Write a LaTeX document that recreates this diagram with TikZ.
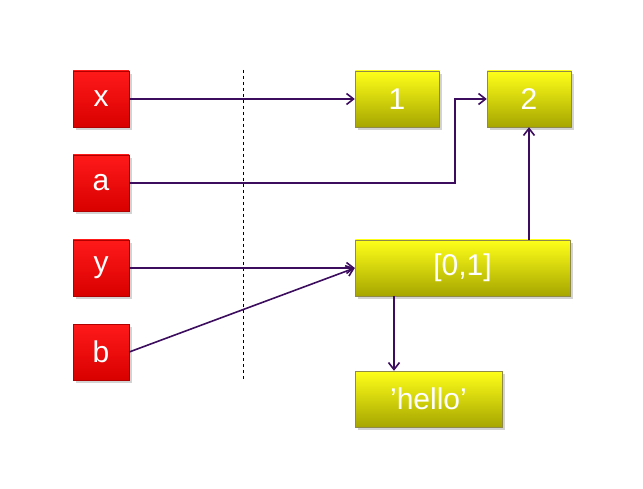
\documentclass[tikz,border=0pt]{standalone}
\usepackage{fontspec}
\setmainfont{Liberation Sans}
\usetikzlibrary{arrows.meta,shadows}
\definecolor{arr}{HTML}{3C0C5E}
\tikzset{
  var/.style={draw=red!70!black, top color=red!90!white, bottom color=red!85!black,
    minimum width=56pt, minimum height=56pt, text=white, font=\fontsize{30}{30}\selectfont,
    drop shadow={opacity=0.35}},
  obj/.style={draw=yellow!50!black, top color=yellow!90!white, bottom color=yellow!65!black,
    minimum height=56pt, text=white, font=\fontsize{30}{30}\selectfont,
    drop shadow={opacity=0.35}},
  ref/.style={draw=arr, line width=1.6pt, -{Straight Barb[length=7pt,width=11pt]}}
}
\begin{document}
\begin{tikzpicture}[x=1pt,y=-1pt]
\useasboundingbox (0,0) rectangle (643,489);
\node[var] (x) at (101,99) {x};
\node[var] (a) at (101,183) {a};
\node[var] (y) at (101,268) {y};
\node[var] (b) at (101,352) {b};
\node[obj, minimum width=84pt] (one) at (397,99) {1};
\node[obj, minimum width=84pt] (two) at (529,99) {2};
\node[obj, minimum width=215pt] (lst) at (462.5,268) {[0,1]};
\node[obj, minimum width=147pt] (hel) at (428.5,399) {'hello'};
\coordinate (top) at (243,70);
\coordinate (bot) at (243,380);
\draw[dashed, line width=1pt] (top) -- (bot);
\draw[ref] (x) -- (one);
\draw[ref] (a.east) -- (455,183) |- (two.west);
\draw[ref] (y) -- (lst.west);
\draw[ref] (b.east) -- (lst.west);
\draw[ref] (lst.north -| two) -- (two.south);
\draw[ref] (lst.south -| 394,0) -- (hel.north -| 394,0);
\end{tikzpicture}
\end{document}
